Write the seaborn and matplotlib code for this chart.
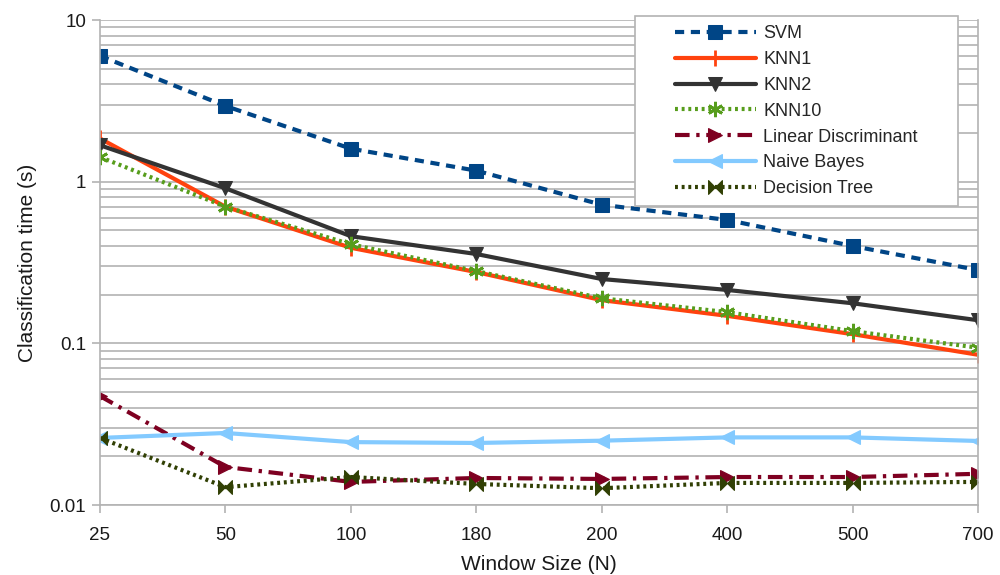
import matplotlib
matplotlib.use("Agg")
import matplotlib.pyplot as plt
import matplotlib.ticker as mticker
from matplotlib.patches import Rectangle
import seaborn as sns

window_sizes = ["25", "50", "100", "180", "200", "400", "500", "700"]
svm = [6.0, 2.94, 1.6, 1.17, 0.72, 0.58, 0.40, 0.284]
knn1 = [1.85, 0.70, 0.39, 0.276, 0.185, 0.148, 0.114, 0.085]
knn2 = [1.68, 0.91, 0.46, 0.357, 0.25, 0.214, 0.177, 0.139]
knn10 = [1.42, 0.70, 0.41, 0.28, 0.19, 0.156, 0.119, 0.094]
lda = [0.0472, 0.0172, 0.0139, 0.0147, 0.0145, 0.0149, 0.0149, 0.0156]
naive_bayes = [0.026, 0.0279, 0.0245, 0.0242, 0.0250, 0.0262, 0.0262, 0.0249]
decision_tree = [0.026, 0.0129, 0.0149, 0.0135, 0.0127, 0.0137, 0.0137, 0.0139]
y_tick_values = [0.01, 0.1, 1, 10]
y_tick_labels = ["0.01", "0.1", "1", "10"]

sns.set_theme(style="white")
plt.rcParams["font.family"] = ["Liberation Sans", "DejaVu Sans"]

fig = plt.figure(figsize=(10, 5.75), dpi=100)
ax = fig.add_axes([0.100, 0.1217, 0.878, 0.8435])

bowtie = [(-1, 1), (0, 0), (1, 1), (1, -1), (0, 0), (-1, -1), (-1, 1)]

series = [
    ("SVM", svm, dict(color="#004586", linestyle=(0, (2.2, 1.6)), marker="s", markersize=10)),
    ("KNN1", knn1, dict(color="#ff420e", linestyle="-", marker="|", markersize=11, markeredgewidth=2)),
    ("KNN2", knn2, dict(color="#333333", linestyle="-", marker="v", markersize=10)),
    ("KNN10", knn10, dict(color="#579d1c", linestyle=(0, (0.7, 0.9)), marker=(6, 2, 0), markersize=11, markeredgewidth=2)),
    ("Linear Discriminant", lda, dict(color="#7e0021", linestyle=(0, (3.5, 1.6, 0.8, 1.6)), marker=">", markersize=10)),
    ("Naive Bayes", naive_bayes, dict(color="#83caff", linestyle="-", marker="<", markersize=10)),
    ("Decision Tree", decision_tree, dict(color="#314004", linestyle=(0, (0.7, 0.9)), marker=bowtie, markersize=10)),
]

for name, vals, style in series:
    color = style.pop("color")
    sns.lineplot(x=window_sizes, y=vals, ax=ax, sort=False, label=name,
                 color=color, linewidth=3, markeredgecolor=color, **style)

ax.set_yscale("log")
ax.set_ylim(0.01, 10)
ax.set_xlim(0, len(window_sizes) - 1)
ax.yaxis.set_major_locator(mticker.FixedLocator(y_tick_values))
ax.yaxis.set_major_formatter(mticker.FixedFormatter(y_tick_labels))
ax.yaxis.set_minor_locator(mticker.LogLocator(base=10, subs=range(2, 10)))
ax.yaxis.set_minor_formatter(mticker.NullFormatter())

ax.grid(True, which="major", axis="y", color="#b3b3b3", linewidth=1.2)
ax.grid(True, which="minor", axis="y", color="#b3b3b3", linewidth=1.2)
ax.grid(False, axis="x")
ax.set_axisbelow(True)

ax.spines["top"].set_visible(False)
for side in ["left", "right", "bottom"]:
    ax.spines[side].set_color("#b3b3b3")
    ax.spines[side].set_linewidth(1.2)

ax.tick_params(axis="y", which="major", left=True, length=6, width=1.2, color="#b3b3b3", labelsize=13.5, pad=4, labelcolor="#1a1a1a")
ax.tick_params(axis="y", which="minor", left=False)
ax.tick_params(axis="x", bottom=True, length=6, width=1.2, color="#b3b3b3", labelsize=13.5, pad=10, labelcolor="#1a1a1a")

ax.set_xlabel("Window Size (N)", fontsize=15, color="#1a1a1a", labelpad=8)
ax.set_ylabel("Classification time (s)", fontsize=15, color="#1a1a1a", labelpad=9)

leg = ax.legend(loc="upper right", bbox_to_anchor=(0.9415, 1.008), fontsize=13, frameon=False,
                handlelength=4.5, borderpad=0.5, labelspacing=0.49, handletextpad=0.4,
                borderaxespad=0)
leg.set_zorder(6)

# wider legend frame (more horizontal padding than vertical), like the reference
fig.canvas.draw()
bb = leg.get_window_extent().transformed(ax.transAxes.inverted())
padx = 31 / (0.878 * 1000)
ax.add_patch(Rectangle((bb.x0 - padx, bb.y0), bb.width + 2 * padx, bb.height,
                       transform=ax.transAxes, facecolor="white", edgecolor="#b3b3b3",
                       linewidth=1.2, zorder=5.5, clip_on=False))

fig.savefig("out.png", dpi=100)
